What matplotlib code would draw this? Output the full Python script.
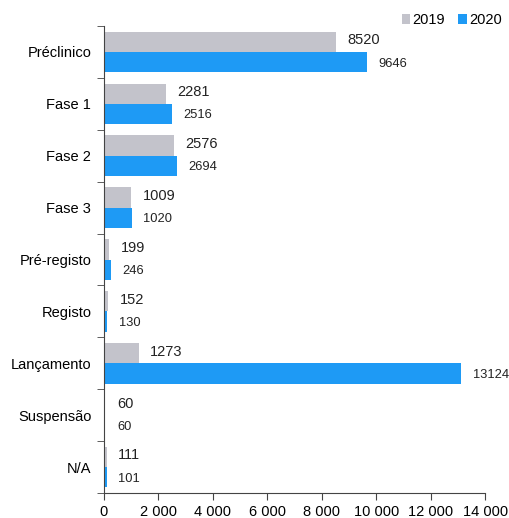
import numpy as np
import matplotlib.pyplot as plt
from matplotlib.ticker import FuncFormatter, FixedLocator

plt.rcParams['font.family'] = ['Liberation Sans', 'DejaVu Sans']

# Número de fármacos por fase de desenvolvimento
fases = ['Préclinico', 'Fase 1', 'Fase 2', 'Fase 3', 'Pré-registo',
         'Registo', 'Lançamento', 'Suspensão', 'N/A']
v2019 = [8520, 2281, 2576, 1009, 199, 152, 1273, 60, 111]
v2020 = [9646, 2516, 2694, 1020, 246, 130, 13124, 60, 101]

cor_2019 = '#c3c3cb'
cor_2020 = '#1e9af5'

fig = plt.figure(figsize=(5.09, 5.18), dpi=100)
ax = fig.add_axes([0.204, 0.048, 0.749, 0.902])

y = np.arange(len(fases))
h = 0.39
b1 = ax.barh(y - h / 2, v2019, height=h, color=cor_2019, label='2019')
b2 = ax.barh(y + h / 2, v2020, height=h, color=cor_2020, label='2020')

for rect, v in zip(b1, v2019):
    ax.text(rect.get_width() + 420, rect.get_y() + rect.get_height() / 2 - 0.03,
            str(v), va='center', ha='left', fontsize=10.5, color='#222222')
for rect, v in zip(b2, v2020):
    ax.text(rect.get_width() + 420, rect.get_y() + rect.get_height() / 2 + 0.03,
            str(v), va='center', ha='left', fontsize=9.3, color='#222222')

ax.set_ylim(len(fases) - 0.5, -0.5)
ax.set_xlim(0, 14000)
ax.set_yticks(y)
ax.set_yticklabels(fases, fontsize=10.5)
ax.tick_params(axis='y', which='major', length=0, pad=9)
ax.yaxis.set_minor_locator(FixedLocator(np.arange(-0.5, len(fases), 1)))
ax.tick_params(axis='y', which='minor', length=5, color='#444444')

ax.set_xticks(np.arange(0, 14001, 2000))
ax.xaxis.set_major_formatter(FuncFormatter(lambda v, p: f'{int(v):,}'.replace(',', ' ')))
ax.tick_params(axis='x', labelsize=10.5, length=5, color='#444444')

for s in ['top', 'right']:
    ax.spines[s].set_visible(False)
for s in ['left', 'bottom']:
    ax.spines[s].set_color('#444444')

ax.legend(loc='lower right', bbox_to_anchor=(1.06, 0.985), ncol=2, frameon=False,
          fontsize=10.5, handlelength=0.6, handleheight=0.6, handletextpad=0.15,
          columnspacing=0.9, borderaxespad=0)

fig.savefig('out.png', dpi=100)
